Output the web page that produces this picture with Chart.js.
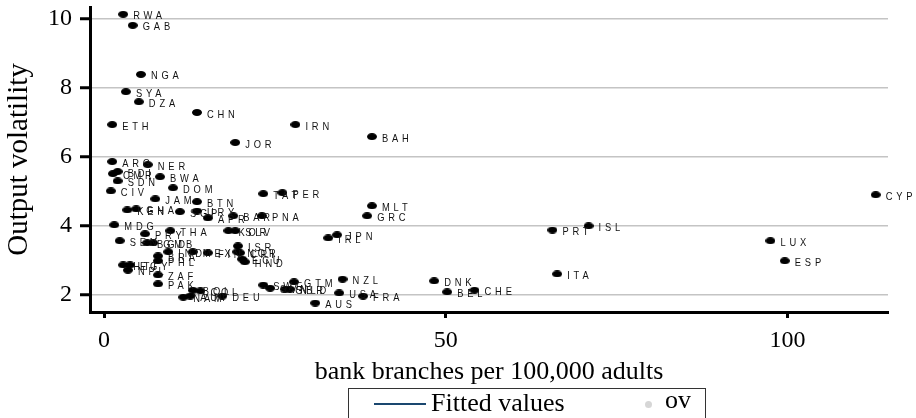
<!DOCTYPE html>
<html>
<head>
<meta charset="utf-8">
<script src="https://cdn.jsdelivr.net/npm/chart.js@4.4.1/dist/chart.umd.min.js"></script>
<style>
  body { margin: 0; background: #fff; }
  #wrap { position: relative; width: 916px; height: 418px; overflow: hidden; }
  #legend {
    position: absolute; left: 348px; top: 388px; width: 358px; height: 40px;
    border: 1px solid #333; box-sizing: border-box;
    font-family: "Liberation Serif", serif; font-size: 26px; color: #000;
  }
  #legend .line { position: absolute; left: 25px; top: 14px; width: 52px; height: 2px; background: #1a476f; }
  #legend .fit { position: absolute; left: 82px; top: -1px; }
  #legend .dot { position: absolute; left: 296px; top: 12px; width: 7px; height: 7px; border-radius: 50%; background: #d6d6d6; }
  #legend .ov { position: absolute; left: 316px; top: -4px; }
</style>
</head>
<body>
<div id="wrap">
  <canvas id="chart" width="916" height="418"></canvas>
  <div id="legend">
    <span class="line"></span><span class="fit">Fitted values</span>
    <span class="dot"></span><span class="ov">ov</span>
  </div>
</div>
<script>
// country codes, bank branches per 100,000 adults, output volatility
const codes = ['RWA','GAB','NGA','SYA','DZA','CHN','ETH','IRN','BAH','JOR',
  'ARG','NER','CMR','BDI','BWA','SDN','CIV','DOM','TAT','PER',
  'JAM','BTN','MLT','KEN','GHA','SGP','URY','BAR','PNA','GRC',
  'APR','MDG','ISL','PRT','THA','KOR','SLV','PRY','IRL','JPN',
  'SEN','BGD','GMB','ISR','IND','MEX','FIN','NOR','CRI','BRA',
  'PHL','ECU','HND','HTI','EGY','NPL','ZAF','ITA','CYP','LUX',
  'ESP','DNK','GTM','NZL','PAK','SWE','SVN','GBR','NLD','BOL',
  'COL','BEL','CHE','USA','FRA','AUS','NAM','AUT','DEU'];
const branches = [2.8, 4.2, 5.4, 3.2, 5.1, 13.6, 1.2, 28.0, 39.2, 19.2,
  1.2, 6.4, 1.3, 2.0, 8.2, 2.0, 1.0, 10.1, 23.3, 26.1,
  7.5, 13.6, 39.2, 3.4, 4.7, 11.1, 13.6, 18.9, 23.1, 38.5,
  15.2, 1.5, 70.9, 65.6, 9.7, 18.2, 19.2, 6.0, 32.8, 34.1,
  2.3, 6.3, 7.2, 19.6, 9.4, 13.0, 15.2, 19.5, 19.9, 7.9,
  7.9, 20.2, 20.6, 2.8, 3.8, 3.5, 7.9, 66.3, 112.9, 97.5,
  99.6, 48.3, 27.8, 34.9, 7.9, 23.3, 24.3, 26.5, 27.2, 13.0,
  14.1, 50.2, 54.2, 34.4, 37.9, 30.9, 11.6, 12.6, 17.3];
const volatility = [10.12, 9.80, 8.38, 7.88, 7.59, 7.28, 6.93, 6.93, 6.58, 6.41,
  5.86, 5.77, 5.51, 5.57, 5.42, 5.30, 5.01, 5.10, 4.93, 4.96,
  4.78, 4.70, 4.58, 4.46, 4.49, 4.41, 4.43, 4.29, 4.29, 4.29,
  4.23, 4.03, 4.00, 3.88, 3.86, 3.86, 3.86, 3.77, 3.65, 3.74,
  3.57, 3.51, 3.51, 3.42, 3.25, 3.25, 3.22, 3.25, 3.22, 3.13,
  2.99, 3.04, 2.96, 2.87, 2.87, 2.72, 2.58, 2.61, 4.90, 3.57,
  2.99, 2.41, 2.38, 2.46, 2.32, 2.29, 2.20, 2.17, 2.17, 2.14,
  2.12, 2.09, 2.14, 2.06, 1.97, 1.77, 1.94, 1.97, 1.97];

const xTicks = [0, 50, 100];
const yTicks = [2, 4, 6, 8, 10];

const points = branches.map((b, i) => ({ x: b, y: volatility[i] }));

// flat black ellipse used as the marker
function makeMarker(w, h) {
  const c = document.createElement('canvas');
  c.width = w; c.height = h;
  const g = c.getContext('2d');
  g.fillStyle = '#000';
  g.beginPath();
  g.ellipse(w / 2, h / 2, w / 2, h / 2, 0, 0, Math.PI * 2);
  g.fill();
  return c;
}

// country code written to the right of each marker
const markerLabels = {
  id: 'markerLabels',
  afterDatasetsDraw(chart) {
    const ctx = chart.ctx;
    const meta = chart.getDatasetMeta(0);
    meta.data.forEach((pt, i) => {
      ctx.save();
      ctx.translate(pt.x + 10, pt.y + 2);
      ctx.scale(0.85, 1);
      ctx.font = '11px "Liberation Sans"';
      ctx.letterSpacing = '4.5px';
      ctx.fillStyle = '#111';
      ctx.textBaseline = 'middle';
      ctx.fillText(codes[i], 0, 0);
      ctx.restore();
    });
  }
};

const serif = { family: '"Liberation Serif", serif', size: 24 };

new Chart(document.getElementById('chart'), {
  type: 'scatter',
  data: {
    datasets: [{
      label: 'ov',
      data: points,
      pointStyle: makeMarker(10, 7),
      pointRadius: 4,
      pointHoverRadius: 4
    }]
  },
  options: {
    responsive: false,
    animation: false,
    layout: { padding: { top: 7, right: 28, bottom: 28, left: 0 } },
    plugins: { legend: { display: false }, tooltip: { enabled: false } },
    scales: {
      x: {
        type: 'linear',
        min: -2.05,
        max: 114.7,
        afterBuildTicks: s => { s.ticks = xTicks.map(v => ({ value: v })); },
        afterFit: s => { s.height = 78; s.paddingLeft = 0; s.paddingRight = 0; },
        grid: { drawOnChartArea: false, tickColor: '#000', tickWidth: 3, tickLength: 6 },
        border: { color: '#000', width: 3 },
        ticks: { color: '#000', font: serif, padding: 8, maxRotation: 0 },
        title: { display: true, text: 'bank branches per 100,000 adults', color: '#000',
                 font: { family: '"Liberation Serif", serif', size: 26 }, padding: { top: 0, bottom: 2 } }
      },
      y: {
        min: 1.51,
        max: 10.33,
        afterBuildTicks: s => { s.ticks = yTicks.map(v => ({ value: v })); },
        afterFit: s => { s.width = 90; s.paddingTop = 0; s.paddingBottom = 0; },
        grid: { color: '#c4c4c4', lineWidth: 1.5, tickColor: '#000', tickWidth: 3, tickLength: 10 },
        border: { color: '#000', width: 3 },
        ticks: { color: '#000', font: serif, padding: 8 },
        title: { display: true, text: 'Output volatility', color: '#000',
                 font: { family: '"Liberation Serif", serif', size: 29 }, padding: 2 }
      }
    }
  },
  plugins: [markerLabels]
});
</script>
</body>
</html>
